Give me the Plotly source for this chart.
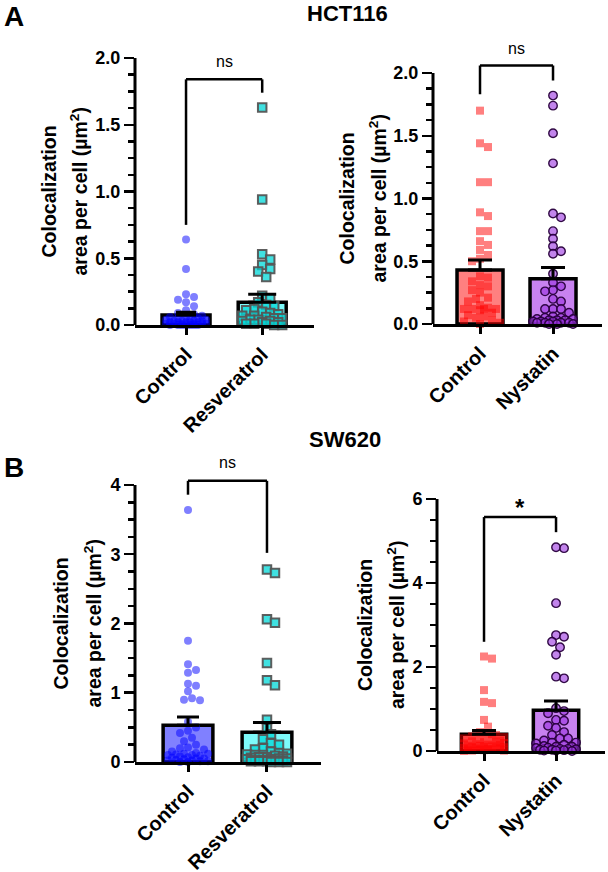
import plotly.graph_objects as go

W, H = 608, 872

# ---------------- data ----------------
cats_res = ["Control", "Resveratrol"]
cats_nys = ["Control", "Nystatin"]

# HCT116 – Resveratrol panel
hct_res_control = [0.64, 0.42, 0.23, 0.21, 0.19, 0.17, 0.14, 0.11, 0.09, 0.08, 0.07, 0.06, 0.06,
                   0.05, 0.05, 0.04, 0.04, 0.04, 0.03, 0.03, 0.03, 0.03, 0.02, 0.02, 0.02, 0.02,
                   0.02, 0.01, 0.01, 0.01, 0.01, 0.01, 0.01, 0.00, 0.00, 0.00, 0.00, 0.00, 0.00, 0.00]
hct_res_treated = [1.63, 0.94, 0.53, 0.49, 0.45, 0.42, 0.40, 0.36, 0.22, 0.20, 0.17, 0.15, 0.14,
                   0.12, 0.11, 0.10, 0.09, 0.08, 0.07, 0.07, 0.06, 0.05, 0.05, 0.04, 0.04, 0.03,
                   0.03, 0.02, 0.02, 0.01, 0.01, 0.01, 0.00, 0.00]
hct_res_mean = [0.075, 0.17]
hct_res_sem = [0.02, 0.06]

# HCT116 – Nystatin panel
hct_nys_control = [1.70, 1.44, 1.41, 1.13, 1.13, 0.89, 0.86, 0.74, 0.74, 0.66, 0.63, 0.59, 0.55,
                   0.52, 0.50, 0.38, 0.37, 0.34, 0.31, 0.30, 0.27, 0.25, 0.21, 0.20, 0.18, 0.15,
                   0.13, 0.12, 0.12, 0.12, 0.12, 0.11, 0.09, 0.07, 0.06, 0.05, 0.03, 0.02, 0.01, 0.00]
hct_nys_treated = [1.82, 1.74, 1.52, 1.28, 0.88, 0.85, 0.74, 0.68, 0.62, 0.58, 0.56, 0.40, 0.33,
                   0.30, 0.27, 0.26, 0.20, 0.18, 0.12, 0.12, 0.12, 0.09, 0.06, 0.05, 0.05, 0.04,
                   0.04, 0.03, 0.03, 0.03, 0.02, 0.02, 0.02, 0.01, 0.01, 0.01, 0.01, 0.00, 0.00, 0.00]
hct_nys_mean = [0.43, 0.36]
hct_nys_sem = [0.08, 0.09]

# SW620 – Resveratrol panel
sw_res_control = [3.64, 1.75, 1.41, 1.33, 1.29, 1.13, 1.10, 1.02, 0.92, 0.90, 0.89, 0.58, 0.50,
                  0.45, 0.42, 0.35, 0.30, 0.25, 0.21, 0.20, 0.18, 0.15, 0.13, 0.12, 0.12, 0.11,
                  0.10, 0.10, 0.09, 0.08, 0.07, 0.06, 0.05, 0.05, 0.04, 0.03, 0.02, 0.02, 0.01,
                  0.01, 0.00, 0.00]
sw_res_treated = [2.78, 2.73, 2.06, 2.01, 1.43, 1.18, 1.11, 0.61, 0.49, 0.40, 0.33, 0.27, 0.25,
                  0.20, 0.18, 0.15, 0.13, 0.12, 0.11, 0.10, 0.10, 0.09, 0.08, 0.07, 0.07, 0.06,
                  0.05, 0.05, 0.04, 0.04, 0.03, 0.03, 0.02, 0.02, 0.01, 0.01, 0.01, 0.00, 0.00, 0.00]
sw_res_mean = [0.53, 0.43]
sw_res_sem = [0.12, 0.14]

# SW620 – Nystatin panel
sw_nys_control = [2.25, 2.20, 1.45, 1.17, 1.14, 0.74, 0.58, 0.45, 0.40, 0.38, 0.35, 0.33, 0.30,
                  0.28, 0.26, 0.25, 0.23, 0.21, 0.20, 0.19, 0.18, 0.16, 0.15, 0.14, 0.13, 0.12,
                  0.11, 0.10, 0.10, 0.09, 0.08, 0.07, 0.06, 0.05, 0.05, 0.04, 0.03, 0.03, 0.02,
                  0.01, 0.01, 0.00]
sw_nys_treated = [4.85, 4.83, 3.52, 2.76, 2.72, 2.60, 2.47, 2.29, 1.77, 1.73, 1.02, 0.95, 0.90,
                  0.74, 0.72, 0.60, 0.55, 0.45, 0.38, 0.30, 0.30, 0.25, 0.20, 0.20, 0.18, 0.15,
                  0.12, 0.10, 0.10, 0.08, 0.07, 0.05, 0.05, 0.04, 0.03, 0.03, 0.02, 0.01, 0.01, 0.00]
sw_nys_mean = [0.40, 0.97]
sw_nys_sem = [0.09, 0.22]

# y-axis ticks
ticks_hct = [0, 0.5, 1.0, 1.5, 2.0]
ticklabels_hct = ["0.0", "0.5", "1.0", "1.5", "2.0"]
ticks_sw_res = [0, 1, 2, 3, 4]
ticklabels_sw_res = ["0", "1", "2", "3", "4"]
ticks_sw_nys = [0, 2, 4, 6]
ticklabels_sw_nys = ["0", "2", "4", "6"]

# significance brackets: (bar height, left leg end, right leg end, label)
sig_hct_res = (1.84, 0.75, 1.74, "ns")
sig_hct_nys = (2.06, 1.83, 1.94, "ns")
sig_sw_res = (4.06, 3.86, 3.02, "ns")
sig_sw_nys = (5.57, 2.60, 5.21, "*")

# ---------------- styles ----------------
FONT = "Liberation Sans, Arial, Helvetica, sans-serif"
blue_pt = dict(symbol="circle", size=8, color="rgba(0,0,255,0.5)", line=dict(width=0))
cyan_pt = dict(symbol="square", size=8.5, color="rgba(0,215,215,0.75)",
               line=dict(width=2, color="rgba(85,85,85,0.95)"))
red_pt = dict(symbol="square", size=8, color="rgba(255,0,0,0.5)", line=dict(width=0))
purple_pt = dict(symbol="circle", size=8.5, color="rgba(153,50,224,0.6)",
                 line=dict(width=1.4, color="rgba(40,0,60,0.95)"))

panels = [
    dict(cats=cats_res, groups=[hct_res_control, hct_res_treated], mean=hct_res_mean, sem=hct_res_sem,
         pts=[blue_pt, cyan_pt], bars=["rgb(128,128,255)", "rgb(125,250,250)"],
         xdom=(135, 314), xr=(-0.67, 1.68), y0px=325, ytpx=58, axmax=2.0, rtop=2.0,
         ticks=ticks_hct, ticklabels=ticklabels_hct, minor=0.125, sig=sig_hct_res, sigpx=61,
         sigsize=16, titlex=(48, 78), capw=[10, 14]),
    dict(cats=cats_nys, groups=[hct_nys_control, hct_nys_treated], mean=hct_nys_mean, sem=hct_nys_sem,
         pts=[red_pt, purple_pt], bars=["rgb(255,128,128)", "rgb(200,130,240)"],
         xdom=(433, 602), xr=(-0.644, 1.671), y0px=324, ytpx=73, axmax=2.0, rtop=2.1,
         ticks=ticks_hct, ticklabels=ticklabels_hct, minor=0.125, sig=sig_hct_nys, sigpx=48,
         sigsize=16, titlex=(347, 378), capw=[12, 12]),
    dict(cats=cats_res, groups=[sw_res_control, sw_res_treated], mean=sw_res_mean, sem=sw_res_sem,
         pts=[blue_pt, cyan_pt], bars=["rgb(128,128,255)", "rgb(125,250,250)"],
         xdom=(135, 321), xr=(-0.671, 1.684), y0px=762, ytpx=485, axmax=4, rtop=4.1,
         ticks=ticks_sw_res, ticklabels=ticklabels_sw_res, minor=0.25, sig=sig_sw_res, sigpx=463,
         sigsize=16, titlex=(61, 93), capw=[11, 14]),
    dict(cats=cats_nys, groups=[sw_nys_control, sw_nys_treated], mean=sw_nys_mean, sem=sw_nys_sem,
         pts=[red_pt, purple_pt], bars=["rgb(255,128,128)", "rgb(200,130,240)"],
         xdom=(437, 605), xr=(-0.653, 1.68), y0px=751, ytpx=499, axmax=6, rtop=6,
         ticks=ticks_sw_nys, ticklabels=ticklabels_sw_nys, minor=0.5, sig=sig_sw_nys, sigpx=507,
         sigsize=24, titlex=(365, 396), capw=[12, 12]),
]


def swarm(vals, xppu, yppu, diam, maxhalf):
    """Deterministic beeswarm offsets (in data units) for a list of values."""
    step = diam * 0.5
    cands = [0.0]
    k = 1
    while k * step <= maxhalf:
        cands += [k * step, -k * step]
        k += 1
    placed, offs = [], []
    for v in vals:
        y = v * yppu
        chosen, bestc, bestd = None, 0.0, -1.0
        for c in cands:
            md = min((((c - px) ** 2 + (y - py) ** 2) ** 0.5 for px, py in placed), default=1e9)
            if md >= diam * 0.9:
                chosen = c
                break
            if md > bestd:
                bestd, bestc = md, c
        if chosen is None:
            chosen = bestc
        placed.append((chosen, y))
        offs.append(chosen / xppu)
    return offs


fig = go.Figure()
shapes, annotations = [], []
layout = dict(width=W, height=H, autosize=False,
              margin=dict(l=0, r=0, t=0, b=0, pad=0, autoexpand=False),
              paper_bgcolor="white", plot_bgcolor="white", showlegend=False,
              font=dict(family=FONT, color="black"))

XTICKSIZE = 20
YTICKSIZE = 18
for i, p in enumerate(panels):
    n = "" if i == 0 else str(i + 1)
    xa, ya = "x" + n, "y" + n
    xdom = (p["xdom"][0] / W, p["xdom"][1] / W)
    ytop_px = p["y0px"] - (p["y0px"] - p["ytpx"]) * p["rtop"] / p["axmax"]
    ydom = (1 - p["y0px"] / H, 1 - ytop_px / H)
    xppu = (p["xdom"][1] - p["xdom"][0]) / (p["xr"][1] - p["xr"][0])
    yppu = (p["y0px"] - p["ytpx"]) / p["axmax"]

    # bars (mean)
    fig.add_trace(go.Bar(x=[0, 1], y=p["mean"], width=0.63, xaxis=xa, yaxis=ya,
                         marker=dict(color=p["bars"], line=dict(color="black", width=3.5))))
    # individual points
    for g, vals in enumerate(p["groups"]):
        offs = swarm(vals, xppu, yppu, 8, 22)
        fig.add_trace(go.Scatter(x=[g + o for o in offs], y=vals, mode="markers",
                                 marker=p["pts"][g], xaxis=xa, yaxis=ya, cliponaxis=False))
    # SEM (upper only)
    for g in range(2):
        fig.add_trace(go.Scatter(x=[g], y=[p["mean"][g]], mode="markers", xaxis=xa, yaxis=ya,
                                 marker=dict(size=1, color="rgba(0,0,0,0)"), cliponaxis=False,
                                 error_y=dict(type="data", array=[p["sem"][g]], arrayminus=[0],
                                              symmetric=False, color="black", thickness=3,
                                              width=p["capw"][g])))

    layout["xaxis" + n] = dict(domain=xdom, range=list(p["xr"]), anchor=ya, automargin=False,
                               tickmode="array", tickvals=[0, 1], ticktext=p["cats"],
                               tickangle=-45, ticks="outside", ticklen=7, tickwidth=3,
                               tickcolor="black", showline=True, linewidth=3, linecolor="black",
                               showgrid=False, zeroline=False,
                               tickfont=dict(family=FONT, size=XTICKSIZE, color="black", weight="bold"))
    minor_vals = []
    v = 0.0
    while v < p["axmax"] - 1e-9:
        if all(abs(v - t) > 1e-9 for t in p["ticks"]):
            minor_vals.append(round(v, 4))
        v += p["minor"]
    layout["yaxis" + n] = dict(domain=ydom, range=[0, p["rtop"]], anchor=xa, automargin=False,
                               tickmode="array", tickvals=p["ticks"], ticktext=p["ticklabels"],
                               ticks="outside", ticklen=10, tickwidth=2.5, tickcolor="black",
                               showline=False, showgrid=False, zeroline=False,
                               minor=dict(tickmode="array", tickvals=minor_vals, ticks="outside",
                                          ticklen=6, tickwidth=2.5, tickcolor="black",
                                          showgrid=False),
                               tickfont=dict(family=FONT, size=YTICKSIZE, color="black", weight="bold"))
    # y axis line from 0 to the top tick
    shapes.append(dict(type="line", xref=xa + " domain", yref=ya, x0=0, x1=0, y0=0,
                       y1=p["axmax"], line=dict(color="black", width=3)))
    # significance bracket
    top, l_end, r_end, lab = p["sig"]
    for (x0, y0, x1, y1) in [(0, l_end, 0, top), (0, top, 1, top), (1, top, 1, r_end)]:
        shapes.append(dict(type="line", xref=xa, yref=ya, x0=x0, y0=y0, x1=x1, y1=y1,
                           line=dict(color="black", width=2.5)))
    annotations.append(dict(text=lab, xref=xa, yref="paper", x=0.5, y=1 - p["sigpx"] / H,
                            showarrow=False, yanchor="middle",
                            font=dict(family=FONT, size=p["sigsize"], color="black",
                                      weight="bold" if lab == "*" else "normal")))
    # y axis title (two lines)
    for tx, txt in zip(p["titlex"], ["Colocalization", "area per cell (µm<sup>2</sup>)"]):
        annotations.append(dict(text=txt, xref="paper", yref=ya, x=tx / W, y=p["axmax"] / 2,
                                textangle=-90, showarrow=False, xanchor="center", yanchor="middle",
                                font=dict(family=FONT, size=19.5, color="black", weight="bold")))

# panel letters and cell-line titles
for txt, x, y, size, anchor in [("A", 2, 16, 28, "left"), ("B", 2, 467, 28, "left"),
                                ("HCT116", 347, 14, 22, "center"), ("SW620", 345, 439, 22, "center")]:
    annotations.append(dict(text=txt, xref="paper", yref="paper", x=x / W, y=1 - y / H,
                            xanchor=anchor, yanchor="middle", showarrow=False,
                            font=dict(family=FONT, size=size, color="black", weight="bold")))

layout["shapes"] = shapes
layout["annotations"] = annotations
fig.update_layout(**layout)
fig.write_html("out.html", config={"displayModeBar": False, "staticPlot": True},
               post_script="document.body.style.margin='0';document.body.style.padding='0';")
